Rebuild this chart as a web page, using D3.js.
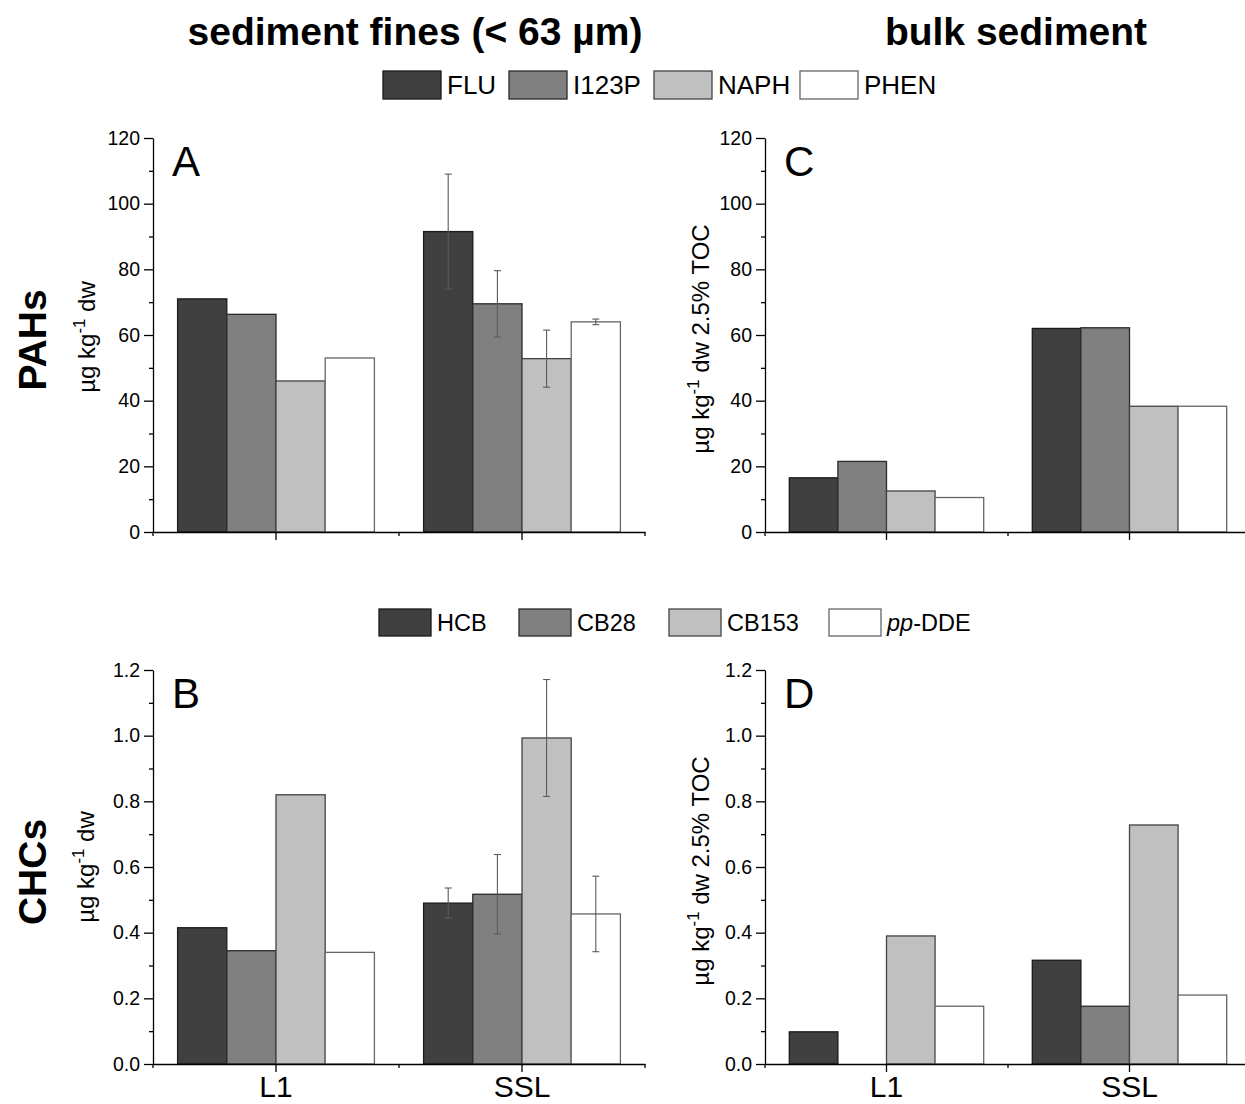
<!DOCTYPE html>
<html>
<head>
<meta charset="utf-8">
<script src="https://cdn.jsdelivr.net/npm/d3@7"></script>
<style>
  body { margin: 0; background: #fff; }
  svg { font-family: "Liberation Sans", Arial, sans-serif; }
  .axis path, .axis line { stroke: #000; stroke-width: 1.3; }
  .axis text { font-size: 19.5px; fill: #000; }
</style>
</head>
<body>
<svg id="chart" width="1245" height="1104"></svg>
<script>
// sites on x axis
const sites = ['L1', 'SSL'];

// PAH compounds and values (µg kg-1 dw)
const pahSeries = ['FLU', 'I123P', 'NAPH', 'PHEN'];
const pahFinesL1 = [71, 66.3, 46, 53];
const pahFinesSSL = [91.5, 69.5, 52.8, 64];
const pahFinesSSLErr = [17.5, 10.1, 8.7, 0.85];
const pahBulkL1 = [16.5, 21.5, 12.5, 10.5];
const pahBulkSSL = [62, 62.2, 38.3, 38.3];

// CHC compounds and values
const chcSeries = ['HCB', 'CB28', 'CB153', 'pp-DDE'];
const chcFinesL1 = [0.415, 0.345, 0.82, 0.34];
const chcFinesSSL = [0.49, 0.517, 0.993, 0.457];
const chcFinesSSLErr = [0.046, 0.121, 0.178, 0.115];
const chcBulkL1 = [0.098, null, 0.39, 0.176];
const chcBulkSSL = [0.316, 0.176, 0.728, 0.21];

const pahTicks = [0, 20, 40, 60, 80, 100, 120];
const chcTicks = [0, 0.2, 0.4, 0.6, 0.8, 1.0, 1.2];

const fills = ['#404040', '#808080', '#c0c0c0', '#ffffff'];
const strokes = ['#1a1a1a', '#2a2a2a', '#444', '#666'];

const svg = d3.select('#chart');

function rows(series, l1, ssl, sslErr) {
    const out = [];
    series.forEach((s, i) => {
        out.push({ site: 'L1', series: s, i, value: l1[i], err: null });
        out.push({ site: 'SSL', series: s, i, value: ssl[i], err: sslErr ? sslErr[i] : null });
    });
    return out.filter(d => d.value != null);
}

function panel(opts) {
    const { x0, x1, yTop, yBot, ticks, fmt, series, data, letter, ylabel, ylabelX, ylabelSize, ylabelShift, showX } = opts;
    const g = svg.append('g');

    const x = d3.scaleBand().domain(sites).range([x0, x1]).padding(0);
    const xs = d3.scaleBand().domain(series)
        .range([x.bandwidth() * 0.1, x.bandwidth() * 0.9]).padding(0);
    const y = d3.scaleLinear().domain([0, d3.max(ticks)]).range([yBot, yTop]);

    // bars
    g.selectAll('rect.bar').data(data).join('rect')
        .attr('class', 'bar')
        .attr('x', d => x(d.site) + xs(d.series))
        .attr('y', d => y(d.value))
        .attr('width', xs.bandwidth())
        .attr('height', d => y(0) - y(d.value))
        .attr('fill', d => fills[d.i])
        .attr('stroke', d => strokes[d.i])
        .attr('stroke-width', 1.3);

    // error bars
    const eb = data.filter(d => d.err != null);
    const cx = d => x(d.site) + xs(d.series) + xs.bandwidth() / 2;
    const errG = g.append('g').attr('stroke', '#5a5a5a').attr('stroke-width', 1.1);
    errG.selectAll('line.v').data(eb).join('line')
        .attr('x1', cx).attr('x2', cx)
        .attr('y1', d => y(d.value - d.err)).attr('y2', d => y(d.value + d.err));
    [1, -1].forEach(sgn => {
        errG.selectAll('line.c' + (sgn > 0 ? 'p' : 'm')).data(eb).join('line')
            .attr('x1', d => cx(d) - 3.5).attr('x2', d => cx(d) + 3.5)
            .attr('y1', d => y(d.value + sgn * d.err)).attr('y2', d => y(d.value + sgn * d.err));
    });

    // y axis with minor ticks
    const step = ticks[1] - ticks[0];
    const minor = ticks.slice(0, -1).map(t => t + step / 2);
    g.append('g').attr('class', 'axis')
        .attr('transform', `translate(${x0},0)`)
        .call(d3.axisLeft(y).tickValues(minor).tickSize(4).tickFormat(''))
        .select('.domain').remove();
    g.append('g').attr('class', 'axis')
        .attr('transform', `translate(${x0},0)`)
        .call(d3.axisLeft(y).tickValues(ticks).tickSize(9).tickSizeOuter(0).tickPadding(4).tickFormat(fmt));

    // x axis
    const xa = g.append('g').attr('class', 'axis')
        .attr('transform', `translate(0,${yBot})`)
        .call(d3.axisBottom(x).tickSize(8).tickSizeOuter(0).tickPadding(2));
    xa.selectAll('text').attr('dy', '0.77em')
        .style('font-size', '30px').style('display', showX ? null : 'none');
    xa.selectAll('line.bnd').data([x0, x(sites[1]), x1]).join('line')
        .attr('class', 'bnd').attr('x1', d => d).attr('x2', d => d)
        .attr('y1', 0).attr('y2', 4);

    // panel letter
    g.append('text').attr('x', x0 + 19).attr('y', yTop + 38)
        .attr('font-size', 42).text(letter);

    // y label
    const yl = g.append('text')
        .attr('transform', `translate(${ylabelX},${(yTop + yBot) / 2 + ylabelShift}) rotate(-90)`)
        .attr('text-anchor', 'middle').attr('font-size', ylabelSize);
    ylabel.forEach(part => {
        const t = yl.append('tspan').text(part.t);
        if (part.sup) t.attr('font-size', ylabelSize * 0.7).attr('dy', -ylabelSize * 0.42);
        if (part.down) t.attr('dy', ylabelSize * 0.42);
    });
}

const finesLabel = [{ t: 'µg kg' }, { t: '-1', sup: true }, { t: ' dw', down: true }];
const bulkLabel = [{ t: 'µg kg' }, { t: '-1', sup: true }, { t: ' dw 2.5% TOC', down: true }];

panel({ x0: 153, x1: 645, yTop: 138, yBot: 532, ticks: pahTicks, fmt: d3.format('d'),
    series: pahSeries, data: rows(pahSeries, pahFinesL1, pahFinesSSL, pahFinesSSLErr),
    letter: 'A', ylabel: finesLabel, ylabelX: 95, ylabelSize: 24, ylabelShift: 2, showX: false });
panel({ x0: 765, x1: 1251, yTop: 138, yBot: 532, ticks: pahTicks, fmt: d3.format('d'),
    series: pahSeries, data: rows(pahSeries, pahBulkL1, pahBulkSSL, null),
    letter: 'C', ylabel: bulkLabel, ylabelX: 709, ylabelSize: 24, ylabelShift: 4, showX: false });
panel({ x0: 153, x1: 645, yTop: 670, yBot: 1064, ticks: chcTicks, fmt: d3.format('.1f'),
    series: chcSeries, data: rows(chcSeries, chcFinesL1, chcFinesSSL, chcFinesSSLErr),
    letter: 'B', ylabel: finesLabel, ylabelX: 94, ylabelSize: 24, ylabelShift: 0, showX: true });
panel({ x0: 765, x1: 1251, yTop: 670, yBot: 1064, ticks: chcTicks, fmt: d3.format('.1f'),
    series: chcSeries, data: rows(chcSeries, chcBulkL1, chcBulkSSL, null),
    letter: 'D', ylabel: bulkLabel, ylabelX: 709, ylabelSize: 24, ylabelShift: 4, showX: true });

// column titles
svg.append('text').attr('x', 415).attr('y', 45).attr('text-anchor', 'middle')
    .attr('font-size', 39).attr('font-weight', 'bold').text('sediment fines (< 63 µm)');
svg.append('text').attr('x', 1016).attr('y', 45).attr('text-anchor', 'middle')
    .attr('font-size', 39).attr('font-weight', 'bold').text('bulk sediment');

// row titles
[['PAHs', 340], ['CHCs', 872]].forEach(([t, cy]) => {
    svg.append('text').attr('transform', `translate(46,${cy}) rotate(-90)`)
        .attr('text-anchor', 'middle').attr('font-size', 39).attr('font-weight', 'bold').text(t);
});

// legends
function legend(series, xs, y, w, h, fs) {
    const lg = svg.append('g');
    series.forEach((s, i) => {
        lg.append('rect').attr('x', xs[i]).attr('y', y).attr('width', w).attr('height', h)
            .attr('fill', fills[i]).attr('stroke', strokes[i]).attr('stroke-width', 1.3);
        const t = lg.append('text').attr('x', xs[i] + w + 6).attr('y', y + h / 2 + fs * 0.36)
            .attr('font-size', fs);
        if (s === 'pp-DDE') {
            t.append('tspan').attr('font-style', 'italic').text('pp');
            t.append('tspan').text('-DDE');
        } else {
            t.text(s);
        }
    });
}
legend(pahSeries, [383, 509, 654, 800], 71, 58, 28, 26);
legend(chcSeries, [379, 519, 669, 829], 609, 52, 27, 23.5);
</script>
</body>
</html>
